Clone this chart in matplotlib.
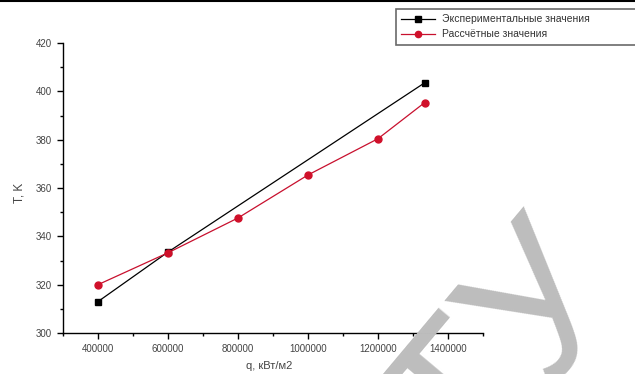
import matplotlib
matplotlib.use("Agg")
import matplotlib.pyplot as plt
from matplotlib.lines import Line2D
from matplotlib.ticker import MultipleLocator

plt.rcParams['font.family'] = ['Liberation Sans', 'DejaVu Sans']

# data
q_exp = [400000, 600000, 1333000]
t_exp = [313.0, 333.5, 403.5]
q_calc = [400000, 600000, 800000, 1000000, 1200000, 1333000]
t_calc = [320.0, 333.2, 347.6, 365.4, 380.4, 395.3]
x_ticks = [400000, 600000, 800000, 1000000, 1200000, 1400000]
x_tick_labels = ['400000', '600000', '800000', '1000000', '1200000', '1400000']
y_ticks = [300, 320, 340, 360, 380, 400, 420]
y_tick_labels = ['300', '320', '340', '360', '380', '400', '420']
label_exp = 'Экспериментальные значения'
label_calc = 'Рассчётные значения'
x_label = 'q, кВт/м2'
y_label = 'T, K'
watermark = 'ТУ'

fig = plt.figure(figsize=(6.35, 3.74), dpi=100)
ax = fig.add_axes([63/635, 1-333/374, (483-63)/635, (333-43)/374])

ax.plot(q_exp, t_exp, color='black', lw=0.9, marker='s', ms=4.5,
        markerfacecolor='black', markeredgecolor='black', label=label_exp, zorder=3)
ax.plot(q_calc, t_calc, color='#c8102e', lw=0.9, marker='o', ms=5,
        markerfacecolor='#d0102a', markeredgecolor='#d0102a', label=label_calc, zorder=4)

ax.set_xlim(300000, 1500000)
ax.set_ylim(300, 420)
ax.set_xticks(x_ticks, x_tick_labels)
ax.set_yticks(y_ticks, y_tick_labels)
ax.xaxis.set_minor_locator(MultipleLocator(100000))
ax.yaxis.set_minor_locator(MultipleLocator(10))
for s in ['top', 'right']:
    ax.spines[s].set_visible(False)
for s in ['left', 'bottom']:
    ax.spines[s].set_linewidth(1.0)
ax.tick_params(which='major', direction='out', length=4, width=1.0,
               labelsize=7, labelcolor='#444444', pad=4)
ax.tick_params(which='minor', direction='out', length=2.5, width=1.0)

ax.set_xlabel(x_label, fontsize=8, color='#444444')
ax.xaxis.set_label_coords(0.49, -0.095)
ax.set_ylabel(y_label, fontsize=8.5, color='#444444')
ax.yaxis.set_label_coords(-0.09, 0.483)

leg = fig.legend(loc='upper left', bbox_to_anchor=(396/635, 0, 0.42, 1-9/374),
                 mode='expand', fontsize=7.5, frameon=True, fancybox=False,
                 borderpad=0.5, handlelength=3.2, handletextpad=0.7,
                 labelspacing=0.5, borderaxespad=0, markerscale=0.9)
leg.get_frame().set_edgecolor('#444444')
leg.get_frame().set_linewidth(1.2)
for t in leg.get_texts():
    t.set_color('#333333')

# top border line
fig.add_artist(Line2D([0, 1], [1-1/374, 1-1/374], transform=fig.transFigure,
                      color='black', lw=1.5))

# watermark
fig.text(0.814, 0.47, watermark, fontsize=145, color='#bdbdbd', rotation=50,
         rotation_mode='anchor', ha='right', va='top', zorder=10,
         family=['Liberation Sans'])

fig.savefig('out.png', dpi=100)
